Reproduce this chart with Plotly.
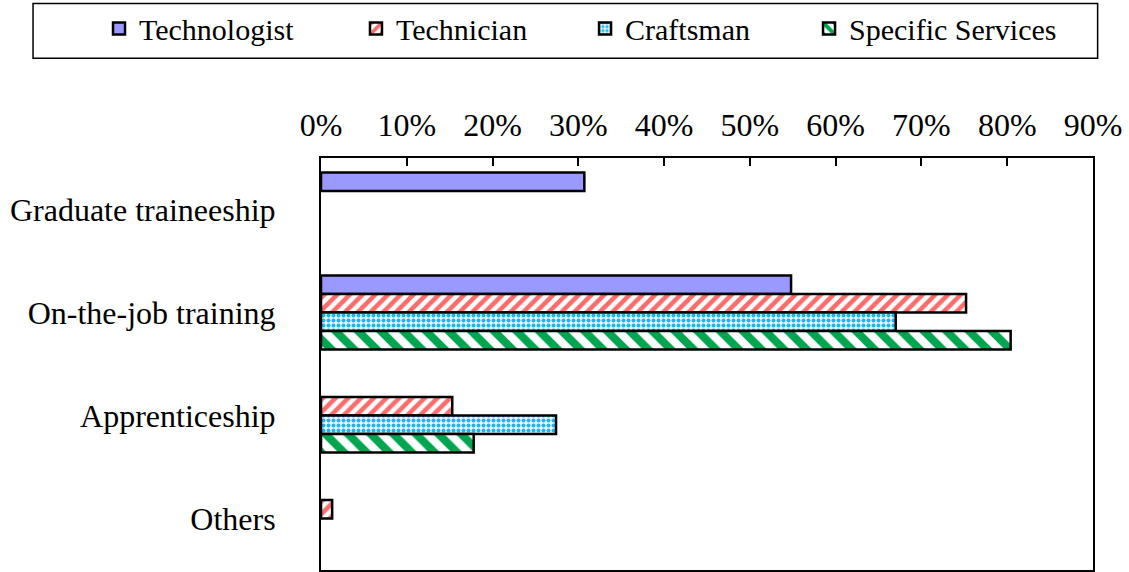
import plotly.graph_objects as go

categories = ["Graduate traineeship", "On-the-job training", "Apprenticeship", "Others"]
technologist = [0.307, 0.548, None, None]
technician = [None, 0.752, 0.153, 0.013]
craftsman = [None, 0.670, 0.274, None]
specific_services = [None, 0.804, 0.178, None]
x_ticks = [0, 0.1, 0.2, 0.3, 0.4, 0.5, 0.6, 0.7, 0.8, 0.9]

FONT = "Liberation Serif"
edge = dict(color="black", width=2.5)

fig = go.Figure()

fig.add_trace(go.Bar(
    y=categories, x=technologist, name="Technologist", orientation="h",
    legend="legend",
    marker=dict(color="#9999FF", line=edge),
))
fig.add_trace(go.Bar(
    y=categories, x=technician, name="Technician", orientation="h",
    legend="legend2",
    marker=dict(color="white", line=edge,
                pattern=dict(shape="/", fgcolor="#FF6A6A", bgcolor="white",
                             fgopacity=1, size=9, solidity=0.5)),
))
fig.add_trace(go.Bar(
    y=categories, x=craftsman, name="Craftsman", orientation="h",
    legend="legend3",
    marker=dict(color="white", line=edge,
                pattern=dict(shape=".", fgcolor="#22B4F0", bgcolor="#E6F7FF",
                             fgopacity=1, size=5, solidity=0.5)),
))
fig.add_trace(go.Bar(
    y=categories, x=specific_services, name="Specific Services", orientation="h",
    legend="legend4",
    marker=dict(color="white", line=edge,
                pattern=dict(shape="\\", fgcolor="#00A64F", bgcolor="white",
                             fgopacity=1, size=16, solidity=0.5)),
))

# legend frame spanning most of the page
fig.add_shape(type="rect", xref="paper", yref="paper",
              x0=-0.373, x1=1.006, y0=1.242, y1=1.375,
              line=dict(color="black", width=1.5))


def legend_at(x):
    # one legend per series so the entries sit where the original has them
    return dict(orientation="h", xref="container", yref="container",
                x=x, xanchor="left", y=0.95, yanchor="middle",
                itemwidth=30, bgcolor="rgba(0,0,0,0)",
                font=dict(family=FONT, size=30, color="black"))


fig.update_layout(
    width=1129, height=572,
    margin=dict(l=321, r=36, t=158, b=2),
    paper_bgcolor="white", plot_bgcolor="white",
    font=dict(family=FONT, size=32, color="black"),
    barmode="group", bargap=0.28, bargroupgap=0,
    showlegend=True,
    legend=legend_at(0.0877),
    legend2=legend_at(0.3153),
    legend3=legend_at(0.5182),
    legend4=legend_at(0.7166),
    xaxis=dict(side="top", range=[0, 0.9], tickvals=x_ticks, tickformat=".0%",
               ticks="inside", ticklen=8, tickwidth=1.5, tickcolor="black",
               showline=True, linecolor="black", linewidth=2, mirror=True,
               showgrid=False, zeroline=False, ticklabelstandoff=7,
               automargin=False),
    yaxis=dict(autorange="reversed", showline=True, linecolor="black",
               linewidth=2, mirror=True, showgrid=False, ticks="",
               ticklabelstandoff=37, automargin=False),
)

fig.write_html("out.html", config={"displayModeBar": False},
               post_script="document.body.style.margin='0';")
